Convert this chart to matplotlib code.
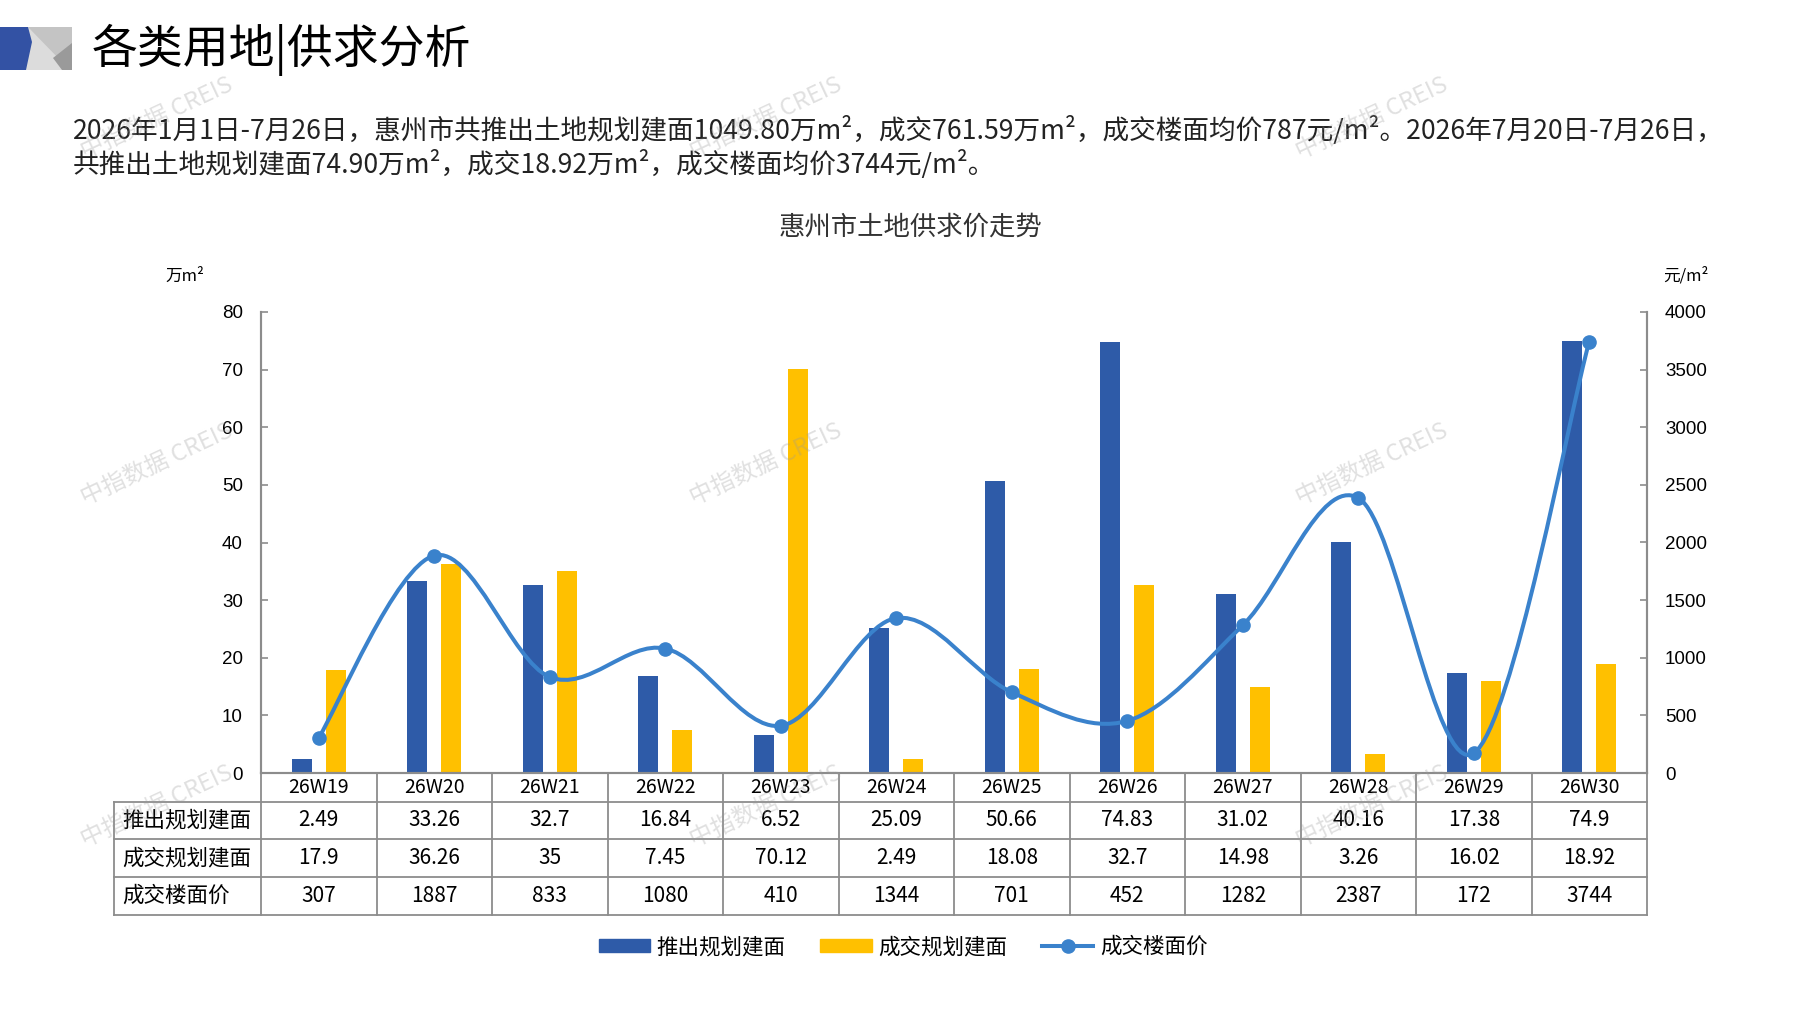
import matplotlib
matplotlib.use("Agg")
import numpy as np
import matplotlib.pyplot as plt
from matplotlib.path import Path
from matplotlib.patches import PathPatch, Polygon, Patch
from matplotlib.lines import Line2D
from matplotlib.transforms import blended_transform_factory

plt.rcParams['font.family'] = ['Noto Sans CJK SC', 'DejaVu Sans']

# data
weeks = ["26W19", "26W20", "26W21", "26W22", "26W23", "26W24",
         "26W25", "26W26", "26W27", "26W28", "26W29", "26W30"]
supply = [2.49, 33.26, 32.7, 16.84, 6.52, 25.09, 50.66, 74.83, 31.02, 40.16, 17.38, 74.9]
deal = [17.9, 36.26, 35, 7.45, 70.12, 2.49, 18.08, 32.7, 14.98, 3.26, 16.02, 18.92]
price = [307, 1887, 833, 1080, 410, 1344, 701, 452, 1282, 2387, 172, 3744]

supply_txt = ["2.49", "33.26", "32.7", "16.84", "6.52", "25.09", "50.66", "74.83",
              "31.02", "40.16", "17.38", "74.9"]
deal_txt = ["17.9", "36.26", "35", "7.45", "70.12", "2.49", "18.08", "32.7",
            "14.98", "3.26", "16.02", "18.92"]
price_txt = [str(p) for p in price]
row_names = ["推出规划建面", "成交规划建面", "成交楼面价"]

BLUE = "#2E5BA8"
YELLOW = "#FFC000"
LINE = "#3A82CC"
GRID = "#8c8c8c"

W, H = 1797, 1010
fig = plt.figure(figsize=(W / 100, H / 100), dpi=100)


def fx(px):
    return px / W


def fy(py):
    return 1 - py / H


# header logo
logo = [
    ([(0, 27), (72, 27), (72, 70), (0, 70)], "#dcdcdc"),
    ([(28, 27), (72, 27), (72, 44), (62, 62)], "#c4c4c4"),
    ([(53, 58), (72, 43), (72, 70), (62, 70)], "#9a9a9a"),
    ([(0, 27), (28, 27), (32, 42), (26, 70), (0, 70)], "#3352a4"),
]
for pts, c in logo:
    fig.patches.append(Polygon([(fx(a), fy(b)) for a, b in pts], closed=True,
                               transform=fig.transFigure, facecolor=c, edgecolor="none"))

fig.text(fx(92), fy(50), "各类用地|供求分析", fontsize=33, va="center", ha="left")

fig.text(fx(73), fy(131),
         "2026年1月1日-7月26日，惠州市共推出土地规划建面1049.80万m²，成交761.59万m²，"
         "成交楼面均价787元/m²。2026年7月20日-7月26日，",
         fontsize=19.2, va="center", ha="left", color="#222222")
fig.text(fx(73), fy(165),
         "共推出土地规划建面74.90万m²，成交18.92万m²，成交楼面均价3744元/m²。",
         fontsize=19.2, va="center", ha="left", color="#222222")

fig.text(fx(911), fy(227), "惠州市土地供求价走势", fontsize=19, ha="center", va="center",
         color="#333333")

# main axes
L, R, T, B = 261, 1647, 312, 773
ax = fig.add_axes([fx(L), fy(B), fx(R - L), (B - T) / H])
ax2 = ax.twinx()

x = np.arange(len(weeks))
ax.bar(x - 0.147, supply, width=0.173, color=BLUE, zorder=2)
ax.bar(x + 0.147, deal, width=0.173, color=YELLOW, zorder=2)
ax.set_xlim(-0.5, len(weeks) - 0.5)
ax.set_ylim(0, 80)
ax.set_yticks(range(0, 81, 10))
ax.set_xticks([])

ax2.set_ylim(0, 4000)
ax2.set_yticks(range(0, 4001, 500))

# smooth price line (bezier through the points, like the spreadsheet smoothing)
pts = np.column_stack([x, price]).astype(float)
ext = np.vstack([pts[0], pts, pts[-1]])
verts = [tuple(pts[0])]
codes = [Path.MOVETO]
for i in range(len(pts) - 1):
    p0, p1, p2, p3 = ext[i], ext[i + 1], ext[i + 2], ext[i + 3]
    c1 = p1 + (p2 - p0) / 6
    c2 = p2 - (p3 - p1) / 6
    verts += [tuple(c1), tuple(c2), tuple(p2)]
    codes += [Path.CURVE4] * 3
ax2.add_patch(PathPatch(Path(verts, codes), facecolor="none", edgecolor=LINE,
                        lw=2.9, zorder=3, clip_on=False))
ax2.plot(x, price, "o", color=LINE, markersize=9.5, zorder=4, clip_on=False)

for a in (ax, ax2):
    a.spines["top"].set_visible(False)
    a.spines["bottom"].set_color(GRID)
    a.spines["bottom"].set_linewidth(1.5)
    a.spines["left"].set_color(GRID)
    a.spines["right"].set_color(GRID)
    a.spines["left"].set_linewidth(1.5)
    a.spines["right"].set_linewidth(1.5)
    a.tick_params(axis="y", direction="in", length=5, width=1.2, color=GRID,
                  labelsize=13.5, pad=13)
    for lab in a.get_yticklabels():
        lab.set_fontfamily("Liberation Sans")
ax.patch.set_visible(False)

fig.text(fx(165), fy(276), "万m²", fontsize=12, ha="left", va="center")
fig.text(fx(1663), fy(276), "元/m²", fontsize=12, ha="left", va="center")

# data table under the axes
h_px = B - T
rows_px = [773, 802, 839, 877, 915]
ya = [(B - r) / h_px for r in rows_px]
tr = blended_transform_factory(ax.transData, ax.transAxes)
trf = blended_transform_factory(fig.transFigure, ax.transAxes)
lkw = dict(color=GRID, lw=1.3, clip_on=False, zorder=5)

for i in range(len(weeks) + 1):
    ax.add_line(Line2D([i - 0.5, i - 0.5], [ya[0], ya[-1]], transform=tr, **lkw))
for y in ya[1:]:
    ax.add_line(Line2D([fx(114), fx(R)], [y, y], transform=trf, **lkw))
ax.add_line(Line2D([fx(114), fx(114)], [ya[1], ya[-1]], transform=trf, **lkw))

for i, wk in enumerate(weeks):
    ax.text(i, (ya[0] + ya[1]) / 2, wk, transform=tr, ha="center", va="center",
            fontsize=14, clip_on=False)
for r, vals in enumerate([supply_txt, deal_txt, price_txt]):
    yc = (ya[r + 1] + ya[r + 2]) / 2
    ax.text(fx(122), yc, row_names[r], transform=trf, ha="left", va="center",
            fontsize=15.5, clip_on=False)
    for i, v in enumerate(vals):
        ax.text(i, yc, v, transform=tr, ha="center", va="center", fontsize=15,
                clip_on=False)

# legend
handles = [Patch(color=BLUE), Patch(color=YELLOW),
           Line2D([], [], color=LINE, lw=2.9, marker="o", markersize=9.5)]
fig.legend(handles, ["推出规划建面", "成交规划建面", "成交楼面价"], loc="center",
           bbox_to_anchor=(fx(903), fy(947)), ncol=3, frameon=False, fontsize=15.5,
           handlelength=2.4, handleheight=0.6, handletextpad=0.3, columnspacing=1.6)

# watermarks
for wx in (157, 766, 1372):
    for wy in (118, 464, 806):
        fig.text(fx(wx), fy(wy), "中指数据 CREIS", fontsize=17, rotation=25,
                 ha="center", va="center", color="#9a9a9a", alpha=0.3, zorder=10)

fig.savefig("out.png", dpi=100)
